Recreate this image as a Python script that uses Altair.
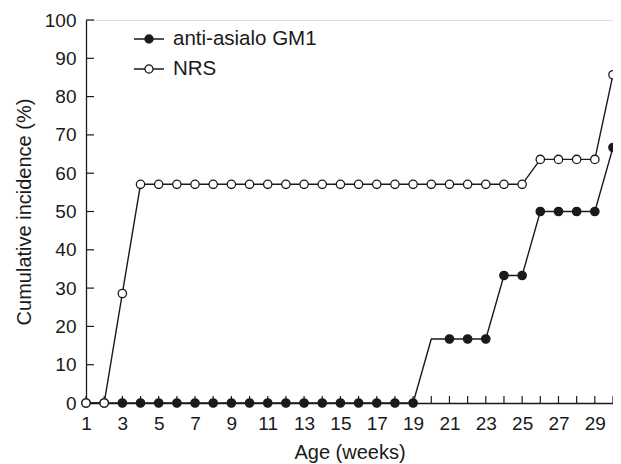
import altair as alt
import pandas as pd

weeks = list(range(1, 31))
anti_asialo = [0, 0, 0, 0, 0, 0, 0, 0, 0, 0, 0, 0, 0, 0, 0, 0, 0, 0, 0,
               16.7, 16.7, 16.7, 16.7, 33.3, 33.3, 50, 50, 50, 50, 66.7]
nrs = [0, 0, 28.6, 57.1, 57.1, 57.1, 57.1, 57.1, 57.1, 57.1, 57.1, 57.1, 57.1,
       57.1, 57.1, 57.1, 57.1, 57.1, 57.1, 57.1, 57.1, 57.1, 57.1, 57.1, 57.1,
       63.6, 63.6, 63.6, 63.6, 85.7]
anti_unmarked_weeks = [20]
series_names = ["anti-asialo GM1", "NRS"]
x_label_values = list(range(1, 30, 2))
x_tick_values = list(range(1, 31))
y_tick_values = list(range(0, 101, 10))

rows = []
for w, v in zip(weeks, anti_asialo):
    rows.append({"week": w, "value": v, "series": series_names[0], "rank": 0,
                 "marked": w not in anti_unmarked_weeks})
for w, v in zip(weeks, nrs):
    rows.append({"week": w, "value": v, "series": series_names[1], "rank": 1,
                 "marked": True})
df = pd.DataFrame(rows)

W, H = 527, 383
FONT = "Liberation Sans"
INK = "#1a1a1a"

xscale = alt.Scale(domain=[1, 30], nice=False, zero=False)
yscale = alt.Scale(domain=[0, 100], nice=False)

x_axis = alt.Axis(values=x_label_values, ticks=False, grid=False,
                  labelFontSize=19, labelFont=FONT, labelColor=INK,
                  labelPadding=11, domainColor=INK, domainWidth=1.3,
                  labelOverlap=False, labelFlush=False, labelBound=False,
                  title="Age (weeks)", titleFont=FONT, titleFontSize=20,
                  titleFontWeight="normal", titleColor=INK, titlePadding=9)
y_axis = alt.Axis(values=y_tick_values, ticks=False, grid=False,
                  labelFontSize=19, labelFont=FONT, labelColor=INK,
                  labelPadding=10, domainColor=INK, domainWidth=1.3,
                  labelOverlap=False, labelFlush=False, labelBound=False,
                  title="Cumulative incidence (%)", titleFont=FONT,
                  titleFontSize=20, titleFontWeight="normal",
                  titleColor=INK, titlePadding=10)


def xq(field):
    return alt.X(field, type="quantitative", scale=xscale, axis=x_axis)


def yq(field):
    return alt.Y(field, type="quantitative", scale=yscale, axis=y_axis)


lines = alt.Chart(df).mark_line(color=INK, strokeWidth=1.4).encode(
    x=xq("week"), y=yq("value"), detail="series:N", order="week:Q")

legend_path = ("M-1,0L-0.27,0M0.27,0L1,0"
               "M0.27,0A0.27,0.27 0 1 1 -0.27,0A0.27,0.27 0 1 1 0.27,0Z")

points = alt.Chart(df).transform_filter("datum.marked").mark_point(
    filled=False, stroke=INK, strokeWidth=1.3, size=70, shape="circle", opacity=1
).encode(
    x=xq("week"), y=yq("value"),
    fill=alt.Fill("series:N",
                  scale=alt.Scale(domain=series_names, range=[INK, "white"]),
                  legend=alt.Legend(title=None, orient="none", legendX=47, legendY=3,
                                    symbolType=legend_path, symbolSize=900,
                                    symbolStrokeColor=INK, symbolStrokeWidth=1.3,
                                    labelFont=FONT, labelFontSize=20.5, labelColor=INK,
                                    labelOffset=8, rowPadding=3, padding=0,
                                    symbolOpacity=1)),
    order=alt.Order("rank:Q", sort="ascending"),
)

xticks_df = pd.DataFrame({"week": x_tick_values})
xticks = alt.Chart(xticks_df).mark_rule(color=INK, strokeWidth=1.2).encode(
    x=xq("week"), y=alt.value(H), y2=alt.value(H - 7))

yticks_df = pd.DataFrame({"value": y_tick_values})
yticks = alt.Chart(yticks_df).mark_rule(color=INK, strokeWidth=1.2).encode(
    y=yq("value"), x=alt.value(0), x2=alt.value(8))

chart = alt.layer(lines, xticks, yticks, points).properties(
    width=W, height=H,
    autosize=alt.AutoSizeParams(type="none"),
    padding={"left": 78, "top": 12, "right": 0, "bottom": 62},
).configure_view(stroke=None).configure(background="white").configure_axis(
    labelOverlap=False)

chart.save("out.html", embed_options={"renderer": "svg", "actions": False})
